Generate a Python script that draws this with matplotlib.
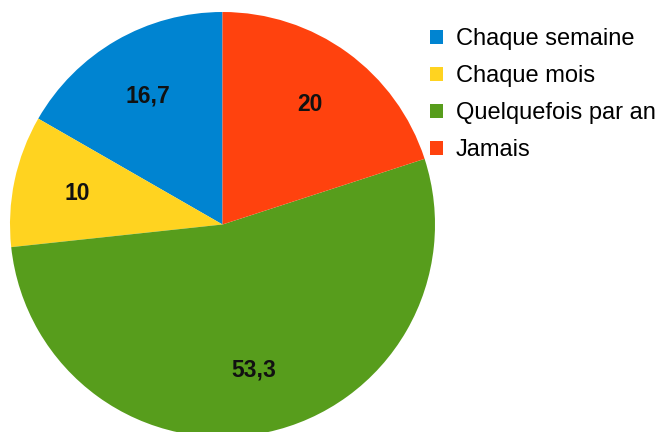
import matplotlib.pyplot as plt

labels = ["Chaque semaine", "Chaque mois", "Quelquefois par an", "Jamais"]
values = [16.7, 10, 53.3, 20]
value_text = ["16,7", "10", "53,3", "20"]
colors = ["#0084d1", "#ffd320", "#579d1c", "#ff420e"]

plt.rcParams['font.family'] = ['Liberation Sans', 'DejaVu Sans']

fig = plt.figure(figsize=(6.62, 4.32), dpi=100)
# pie centre ~(222, 224) px, radius ~212 px
ax = fig.add_axes([10 / 662, (432 - 224.5 - 212.5) / 432, 425 / 662, 425 / 432])

wedges, texts = ax.pie(values, colors=colors, startangle=90, counterclock=True,
                       labels=value_text, labeldistance=0.7,
                       wedgeprops=dict(linewidth=0),
                       textprops=dict(fontsize=16.5, fontweight='bold', color='#111111',
                                      ha='center', va='center'))
ax.set_xlim(-1, 1)
ax.set_ylim(-1, 1)

fig.legend(wedges, labels, loc='upper left', bbox_to_anchor=(430 / 662, 1 - 28 / 432),
           frameon=False, fontsize=17, handlelength=0.55, handleheight=0.55,
           handletextpad=0.55, labelspacing=0.64, borderpad=0, borderaxespad=0)

fig.savefig("out.png", dpi=100)
